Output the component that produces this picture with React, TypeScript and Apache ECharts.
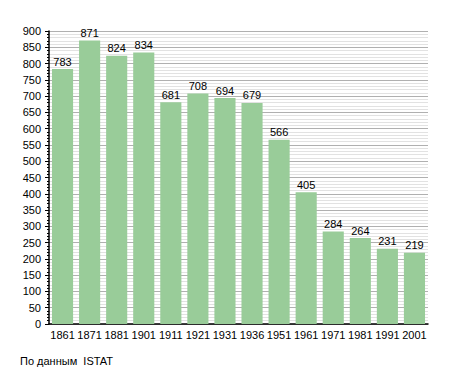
import React, { useEffect, useRef } from "react";
import * as echarts from "echarts";

const years = ["1861", "1871", "1881", "1901", "1911", "1921", "1931", "1936", "1951", "1961", "1971", "1981", "1991", "2001"];
const population = [783, 871, 824, 834, 681, 708, 694, 679, 566, 405, 284, 264, 231, 219];
const sourceNote = "По данным  ISTAT";

export default function App() {
  const ref = useRef<HTMLDivElement>(null);
  useEffect(() => {
    if (!ref.current) return;
    const chart = echarts.init(ref.current, null, { renderer: "svg" });
    const font = "'Liberation Sans', Arial, sans-serif";
    chart.setOption({
      animation: false,
      backgroundColor: "#ffffff",
      grid: { left: 49, right: 27, top: 31, bottom: 49, containLabel: false },
      xAxis: {
        type: "category",
        data: years,
        axisLine: { show: true, lineStyle: { color: "#000", width: 1.5 } },
        axisTick: { show: false },
        axisLabel: { color: "#000", fontSize: 11, fontFamily: font, margin: 5, interval: 0 },
        splitLine: { show: false },
      },
      yAxis: {
        type: "value",
        min: 0,
        max: 900,
        interval: 50,
        axisLine: { show: true, lineStyle: { color: "#000", width: 1.5 } },
        axisTick: { show: true, length: 4, lineStyle: { color: "#000" } },
        minorTick: { show: true, splitNumber: 5, length: 2, lineStyle: { color: "#000" } },
        axisLabel: { color: "#000", fontSize: 11, fontFamily: font, margin: 8 },
        splitLine: { show: true, lineStyle: { color: "#b0b0b0", width: 1 } },
        minorSplitLine: { show: true, lineStyle: { color: "#e2e2e2", width: 1 } },
      },
      series: [
        {
          type: "bar",
          data: population,
          barCategoryGap: "22%",
          itemStyle: { color: "#99cc99" },
          label: { show: true, position: "top", color: "#000", fontSize: 11, fontFamily: font, distance: 2 },
        },
      ],
      graphic: [
        {
          type: "text",
          left: 20,
          top: 355,
          style: { text: sourceNote, fill: "#000", fontSize: 11, fontFamily: font },
        },
      ],
    });
    return () => chart.dispose();
  }, []);
  return <div ref={ref} style={{ width: 455, height: 373, position: "absolute", left: 0, top: 0 }} />;
}
